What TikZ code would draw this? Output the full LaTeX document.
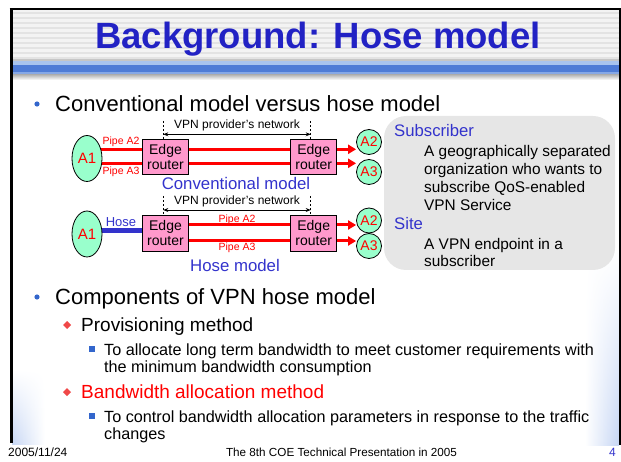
\documentclass[tikz,border=0pt]{standalone}
\usepackage{fontspec}
\setmainfont{Liberation Sans}
\usetikzlibrary{shapes.geometric,arrows.meta,backgrounds,fadings}

\definecolor{titleblue}{HTML}{2222C4}
\definecolor{labelblue}{HTML}{3333CC}
\definecolor{bulletblue}{HTML}{3366CC}
\definecolor{mint}{HTML}{99FFCC}
\definecolor{pinkbox}{HTML}{FF99CC}
\definecolor{panelgray}{HTML}{E6E6E6}
\definecolor{stripeA}{HTML}{F3F3F3}
\definecolor{stripeB}{HTML}{E3E3E3}
\definecolor{bandlight}{HTML}{A9C4EE}
\definecolor{banddark}{HTML}{4F7CD6}
\definecolor{bandmid}{HTML}{86A8E6}
\definecolor{diamondred}{HTML}{F04848}
\definecolor{edgeblue}{HTML}{C6D6F4}

\newcommand{\setfs}[1]{\fontsize{#1}{#1}\selectfont}
\newcommand{\setfsb}[2]{\fontsize{#1}{#2}\selectfont}

\tikzset{
  txt/.style={anchor=base west, inner sep=0pt},
  lvlone/.style={txt, font=\setfs{22}},
  lvltwo/.style={txt, font=\setfs{19}},
  lvlthree/.style={txt, font=\setfs{16.2}},
  sitebig/.style={ellipse, draw=black, line width=0.8pt, fill=mint, text=red,
    inner sep=0pt, minimum width=30pt, minimum height=46pt, font=\setfs{15}},
  sitesmall/.style={circle, draw=black, line width=0.8pt, fill=mint, text=red,
    inner sep=0pt, minimum size=25pt, font=\setfs{14}},
  router/.style={rectangle, draw=black, line width=0.8pt, fill=pinkbox,
    minimum width=46pt, minimum height=35pt, inner sep=0pt, align=center,
    font=\setfsb{14}{15}},
  pipe/.style={red, line width=3pt},
  pipearrow/.style={pipe, -{Triangle[length=8pt,width=9pt]}},
  hoseline/.style={labelblue, line width=5pt},
  netedge/.style={black, line width=0.6pt, dash pattern=on 2pt off 2pt},
  netspan/.style={black, line width=0.7pt, {Stealth[length=5pt,width=4pt]}-{Stealth[length=5pt,width=4pt]}},
  netlabel/.style={inner sep=0pt, font=\setfs{12}},
  pipelabel/.style={inner sep=0pt, text=red, font=\setfs{10.5}},
  caption/.style={inner sep=0pt, text=labelblue, font=\setfs{16.8}},
  term/.style={txt, text=labelblue, font=\setfs{16.7}},
  defn/.style={txt, font=\setfs{15.4}},
  footer/.style={inner sep=0pt, font=\setfs{12}},
}

\begin{document}
\begin{tikzpicture}[x=1pt,y=-1pt]
\useasboundingbox (0,0) rectangle (621,462);

% ---------- slide frame and header ----------
\fill[stripeA] (12,10) rectangle (620,59);
\foreach \yy in {12,17,...,57} \fill[stripeB] (12,\yy) rectangle (620,\yy+2);
\fill[gray!45] (12,59) rectangle (620,61);
\fill[bandlight] (12,61) rectangle (620,65);
\fill[banddark] (12,65) rectangle (620,72);
\fill[bandmid] (12,72) rectangle (620,75);
\shade[top color=gray!55, bottom color=white] (12,75) rectangle (620,80);

% soft blue glow along the lower side edges
\shade[left color=white, right color=edgeblue, path fading=north] (585,250) rectangle (619,445);
\shade[left color=edgeblue, right color=white, path fading=north] (12,370) rectangle (45,445);

\draw[black, line width=2pt] (9.5,9.5) -- (620.5,9.5);
\draw[black, line width=3pt] (11,8.5) -- (11,443);
\draw[black, line width=1.6pt] (619.8,8.5) -- (619.8,445);

% ---------- title ----------
\node[anchor=base, inner sep=0pt, text=titleblue, font=\bfseries\setfs{36.5}] (title) at (318,49) {Background: Hose model};

% ---------- first bullet ----------
\fill[bulletblue] (37,104) circle (2.6);
\node[lvlone] (conv) at (55,111.5) {Conventional model versus hose model};

% ---------- definitions panel ----------
\node[fill=panelgray, rounded corners=22pt, minimum width=231pt, minimum height=154pt, inner sep=0pt] (panel) at (499.5,193) {};
\node[term] (subscriber) at (394,136.7) {Subscriber};
\node[defn] (sd1) at (424,156.2) {A geographically separated};
\node[defn] (sd2) at (424,174.2) {organization who wants to};
\node[defn] (sd3) at (424,192.3) {subscribe QoS-enabled};
\node[defn] (sd4) at (424,210.5) {VPN Service};
\node[term] (site) at (394,230) {Site};
\node[defn] (st1) at (424,249.8) {A VPN endpoint in a};
\node[defn] (st2) at (424,267) {subscriber};

% ---------- conventional model ----------
\node[sitebig] (a1c) at (87,158.5) {A1};
\node[router] (er1c) at (165.5,157) {Edge\\router};
\node[router] (er2c) at (313.7,157) {Edge\\router};
\node[sitesmall] (a2c) at (369,142) {A2};
\node[sitesmall] (a3c) at (369,172) {A3};
\coordinate (cy1) at (0,149.3);
\coordinate (cy2) at (0,163.3);
\begin{pgfonlayer}{background}
  \draw[pipe] (a1c.center |- cy1) -- (er2c.west |- cy1);
  \draw[pipe] (a1c.center |- cy2) -- (er2c.west |- cy2);
\end{pgfonlayer}
\draw[pipearrow] (er2c.east |- cy1) -- (a2c.west |- cy1);
\draw[pipearrow] (er2c.east |- cy2) -- (a3c.west |- cy2);
\node[pipelabel] (pa2c) at (121,141.5) {Pipe A2};
\node[pipelabel] (pa3c) at (121,172) {Pipe A3};
\coordinate (nlc) at (163.3,121);
\coordinate (nrc) at (310.7,121);
\coordinate (nlca) at (163.3,134.3);
\coordinate (nrca) at (310.7,134.3);
\draw[netedge] (nlc) -- (nlc |- er1c.north);
\draw[netedge] (nrc) -- (nrc |- er2c.north);
\draw[netspan] (nlca) -- (nrca);
\node[netlabel] (netc) at (237,125) {VPN provider's network};
\node[caption] (capc) at (236,183) {Conventional model};

% ---------- hose model ----------
\node[sitebig] (a1h) at (87,234) {A1};
\node[router, minimum height=36pt] (er1h) at (165.5,233) {Edge\\router};
\node[router, minimum height=36pt] (er2h) at (313.7,233) {Edge\\router};
\node[sitesmall] (a2h) at (369,220.5) {A2};
\node[sitesmall] (a3h) at (369,246) {A3};
\coordinate (hy) at (0,231);
\coordinate (hy1) at (0,225);
\coordinate (hy2) at (0,241);
\begin{pgfonlayer}{background}
  \draw[hoseline] (a1h.center |- hy) -- (er1h.west |- hy);
\end{pgfonlayer}
\draw[pipe] (er1h.east |- hy1) -- (er2h.west |- hy1);
\draw[pipe] (er1h.east |- hy2) -- (er2h.west |- hy2);
\draw[pipearrow] (er2h.east |- hy1) -- (a2h.west |- hy1);
\draw[pipearrow] (er2h.east |- hy2) -- (a3h.west |- hy2);
\node[inner sep=0pt, text=labelblue, font=\setfs{13}] (hoselbl) at (121,222) {Hose};
\node[pipelabel] (pa2h) at (237,220) {Pipe A2};
\node[pipelabel] (pa3h) at (237,248) {Pipe A3};
\coordinate (nlh) at (163.3,196);
\coordinate (nrh) at (310.7,196);
\coordinate (nlha) at (163.3,210);
\coordinate (nrha) at (310.7,210);
\draw[netedge] (nlh) -- (nlh |- er1h.north);
\draw[netedge] (nrh) -- (nrh |- er2h.north);
\draw[netspan] (nlha) -- (nrha);
\node[netlabel] (neth) at (237,201.5) {VPN provider's network};
\node[caption] (caph) at (235,265) {Hose model};

% ---------- second bullet and its items ----------
\fill[bulletblue] (37,297) circle (2.6);
\node[lvlone] (comp) at (55,304.5) {Components of VPN hose model};

\fill[diamondred] (67,321) -- (71,325) -- (67,329) -- (63,325) -- cycle;
\node[lvltwo] (prov) at (81,331.5) {Provisioning method};
\fill[bulletblue] (89.3,346.3) rectangle (94.7,351.7);
\node[lvlthree] (prov1) at (104,355) {To allocate long term bandwidth to meet customer requirements with};
\node[lvlthree] (prov2) at (104,372) {the minimum bandwidth consumption};

\fill[diamondred] (67,388) -- (71,392) -- (67,396) -- (63,392) -- cycle;
\node[lvltwo, text=red] (alloc) at (81,398.5) {Bandwidth allocation method};
\fill[bulletblue] (89.3,413.3) rectangle (94.7,418.7);
\node[lvlthree] (alloc1) at (104,422) {To control bandwidth allocation parameters in response to the traffic};
\node[lvlthree] (alloc2) at (104,439) {changes};

% ---------- footer ----------
\node[footer, anchor=base west] (date) at (8,456.5) {2005/11/24};
\node[footer, anchor=base, font=\setfs{11.7}] (event) at (341.5,456.5) {The 8th COE Technical Presentation in 2005};
\node[footer, anchor=base east, text=labelblue] (page) at (616,456.5) {4};
\end{tikzpicture}
\end{document}
